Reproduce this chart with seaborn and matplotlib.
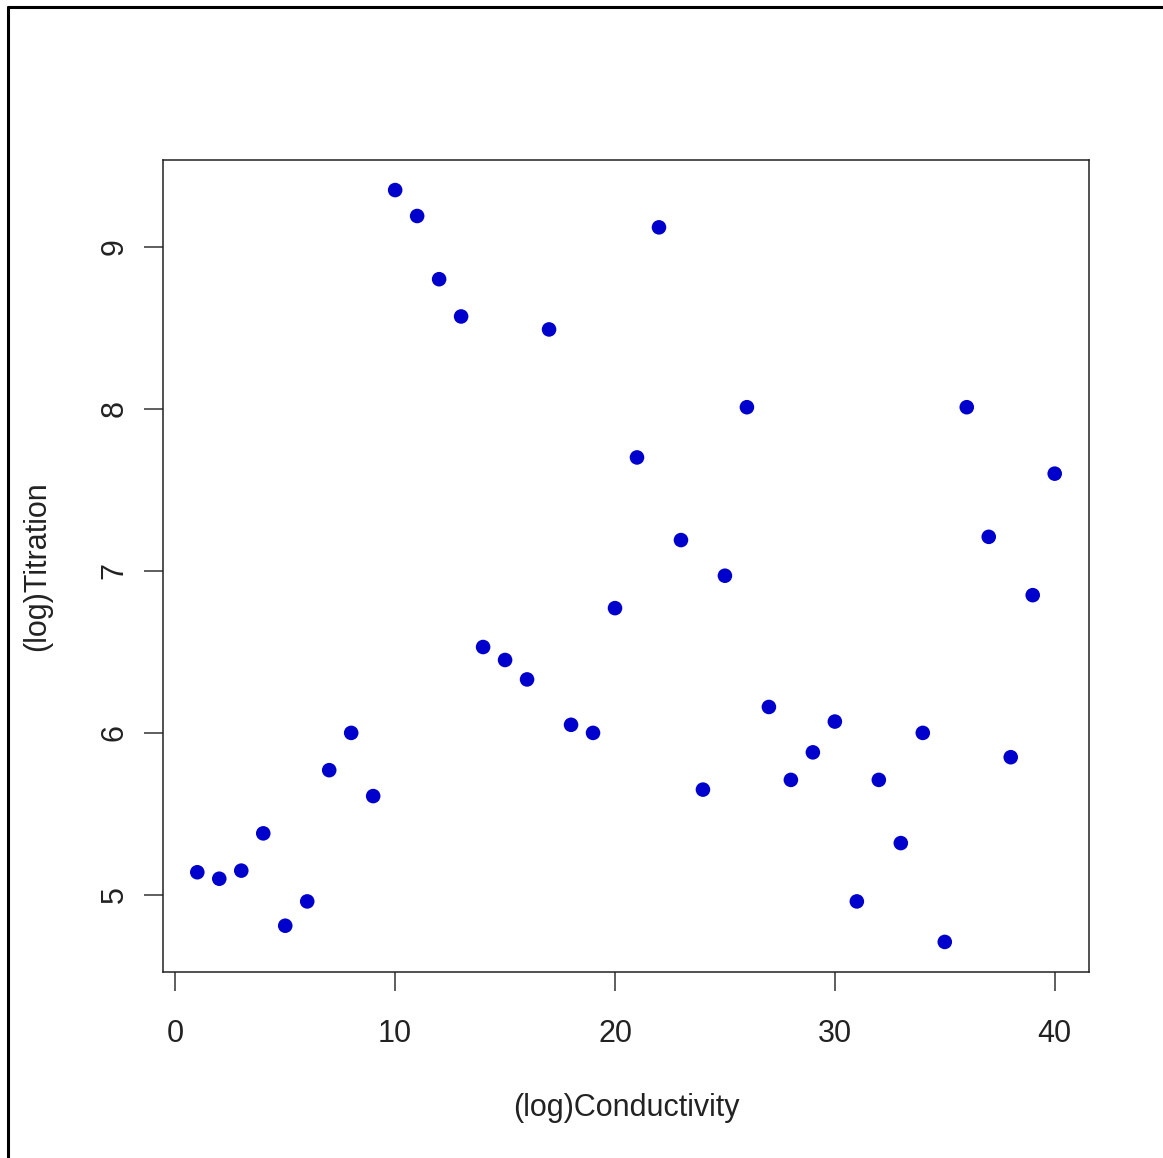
import numpy as np
import pandas as pd
import matplotlib
matplotlib.use("Agg")
import matplotlib.pyplot as plt
import seaborn as sns
from matplotlib.lines import Line2D

# values
conductivity = list(range(1, 41))
titration = [
    5.14, 5.10, 5.15, 5.38, 4.81, 4.96, 5.77, 6.00, 5.61, 9.35,
    9.19, 8.80, 8.57, 6.53, 6.45, 6.33, 8.49, 6.05, 6.00, 6.77,
    7.70, 9.12, 7.19, 5.65, 6.97, 8.01, 6.16, 5.71, 5.88, 6.07,
    4.96, 5.71, 5.32, 6.00, 4.71, 8.01, 7.21, 5.85, 6.85, 7.60,
]
x_ticks = [0, 10, 20, 30, 40]
y_ticks = [5, 6, 7, 8, 9]

df = pd.DataFrame({"(log)Conductivity": conductivity, "(log)Titration": titration})

sns.set_style("white")
plt.rcParams["font.family"] = ["Liberation Sans", "DejaVu Sans"]

fig = plt.figure(figsize=(11.63, 11.58), dpi=100)
ax = fig.add_axes([163 / 1163, 1 - 972 / 1158, 926 / 1163, 812 / 1158])

sns.scatterplot(data=df, x="(log)Conductivity", y="(log)Titration",
                color="#0000CD", s=110, edgecolor="none", ax=ax)

# R style 4% padding
xr = max(conductivity) - min(conductivity)
yr = max(titration) - min(titration)
ax.set_xlim(min(conductivity) - 0.04 * xr, max(conductivity) + 0.04 * xr)
ax.set_ylim(min(titration) - 0.04 * yr, max(titration) + 0.04 * yr)

ax.set_xticks(x_ticks)
ax.set_yticks(y_ticks)
ax.tick_params(axis="both", which="major", direction="out", length=14, width=1.1,
               bottom=True, left=True, top=False, right=False,
               color="#333333", labelsize=22, labelcolor="#222222")
ax.tick_params(axis="x", pad=20)
ax.tick_params(axis="y", pad=10)
for lab in ax.get_yticklabels():
    lab.set_rotation(90)
    lab.set_va("center")

for sp in ax.spines.values():
    sp.set_visible(True)
    sp.set_color("#222222")
    sp.set_linewidth(1.1)

ax.set_xlabel("(log)Conductivity", fontsize=22, color="#222222")
ax.set_ylabel("(log)Titration", fontsize=22, color="#222222")
ax.xaxis.set_label_coords(0.5, (972 - 1108) / 812)
ax.yaxis.set_label_coords((37 - 163) / 926, 0.5)
ax.xaxis.label.set_va("center")
ax.yaxis.label.set_va("center")

# outer frame (left and top edges only, as in the picture)
fig.add_artist(Line2D([8 / 1163, 8 / 1163], [0, 1 - 7 / 1158], transform=fig.transFigure,
                      color="black", linewidth=2.2))
fig.add_artist(Line2D([8 / 1163, 1], [1 - 7 / 1158, 1 - 7 / 1158], transform=fig.transFigure,
                      color="black", linewidth=2.2))

fig.savefig("out.png", dpi=100)
